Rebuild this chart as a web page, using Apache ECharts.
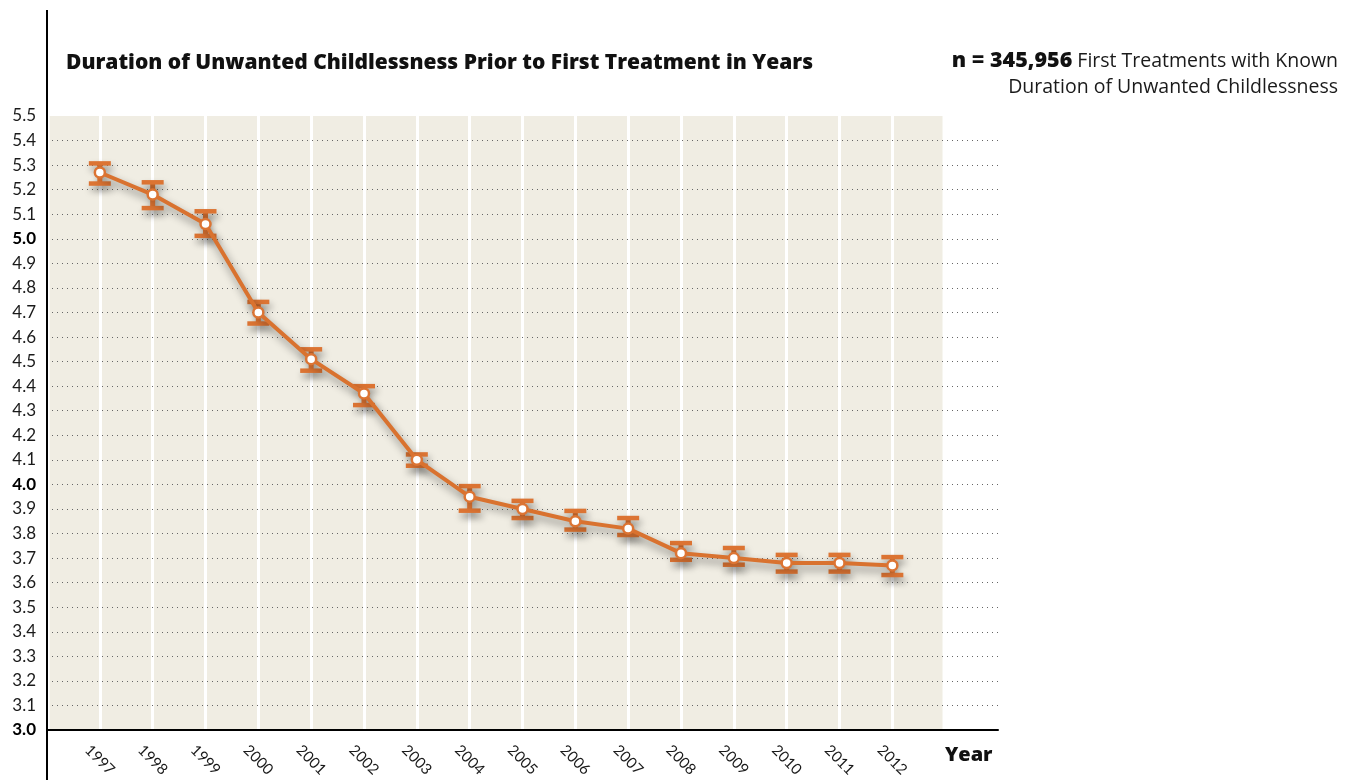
<!DOCTYPE html>
<html>
<head>
<meta charset="utf-8">
<script src="https://cdn.jsdelivr.net/npm/echarts@6/dist/echarts.min.js"></script>
<style>
html,body{margin:0;padding:0;background:#fff;}
#chart{width:1353px;height:780px;}
</style>
</head>
<body>
<div id="chart"></div>
<script>
const years = [1997,1998,1999,2000,2001,2002,2003,2004,2005,2006,2007,2008,2009,2010,2011,2012];
const meanValues = [5.27,5.18,5.06,4.70,4.51,4.37,4.10,3.95,3.90,3.85,3.82,3.72,3.70,3.68,3.68,3.67];
const lowerValues = [5.225,5.125,5.012,4.655,4.463,4.323,4.076,3.893,3.863,3.816,3.794,3.693,3.673,3.645,3.645,3.631];
const upperValues = [5.307,5.230,5.112,4.743,4.550,4.400,4.122,3.993,3.933,3.892,3.863,3.761,3.741,3.713,3.713,3.704];
const yTicks = {min: 3.0, max: 5.5, step: 0.1};
const titleText = 'Duration of Unwanted Childlessness Prior to First Treatment in Years';
const noteBold = 'n = 345,956';
const noteLine1 = ' First Treatments with Known';
const noteLine2 = 'Duration of Unwanted Childlessness';
const xAxisLabel = 'Year';

const ORANGE = '#DC7433';
const FONT = 'Lato, "Open Sans", sans-serif';
const HFONT = '"Open Sans", Lato, sans-serif';

const chart = echarts.init(document.getElementById('chart'));

const bgRange = [[years[0] - 0.95, years[years.length - 1] + 0.95]];

const option = {
  animation: false,
  backgroundColor: '#ffffff',
  grid: {left: 47, right: 355, top: 116, bottom: 50, containLabel: false},
  xAxis: {
    type: 'value',
    min: 1996, max: 2014, interval: 1,
    z: 2,
    axisLine: {show: true, onZero: false, lineStyle: {color: '#000', width: 2}},
    axisTick: {show: false},
    splitLine: {show: true, lineStyle: {color: '#ffffff', width: 3}},
    axisLabel: {
      rotate: -45, align: 'center', verticalAlign: 'middle', margin: 30,
      fontFamily: FONT, fontSize: 15, color: '#1a1a1a',
      formatter: v => years.indexOf(v) >= 0 ? String(v) : ''
    }
  },
  yAxis: {
    type: 'value',
    min: yTicks.min, max: yTicks.max, interval: yTicks.step,
    z: 3,
    axisLine: {show: false},
    axisTick: {show: false},
    splitLine: {show: true, showMaxLine: false, showMinLine: false, lineStyle: {color: '#666', width: 1, type: [1, 4]}},
    axisLabel: {
      margin: 11, fontFamily: FONT, fontSize: 17, color: '#1a1a1a',
      formatter: v => {
        const s = v.toFixed(1);
        return Math.abs(v - Math.round(v)) < 1e-6 ? '{b|' + s + '}' : s;
      },
      rich: {b: {fontWeight: 'bold', fontSize: 17, fontFamily: FONT, color: '#000'}}
    }
  },
  title: {
    text: titleText, left: 61, top: 48,
    textStyle: {fontFamily: HFONT, fontSize: 21, fontWeight: 800, color: '#111'}
  },
  graphic: [
    {type: 'line', z: 100, shape: {x1: 47, y1: 10, x2: 47, y2: 780}, style: {stroke: '#000', lineWidth: 2}},
    {type: 'text', right: 15, top: 50, z: 100,
      style: {
        text: '{b|' + noteBold + '}' + noteLine1,
        fontFamily: HFONT, fontSize: 19.5, fill: '#1a1a1a',
        rich: {b: {fontWeight: 800, fontFamily: HFONT, fontSize: 21.5, fill: '#111'}}
      }
    },
    {type: 'text', right: 15, top: 77, z: 100,
      style: {text: noteLine2, fontFamily: HFONT, fontSize: 19.5, fill: '#1a1a1a'}
    },
    {type: 'text', left: 945, top: 745, z: 100,
      style: {text: xAxisLabel, fontFamily: HFONT, fontSize: 20, fontWeight: 800, fill: '#111'}}
  ],
  series: [
    {
      type: 'custom', z: 0, silent: true,
      data: bgRange,
      encode: {x: [0, 1]},
      renderItem: (params, api) => {
        const p0 = api.coord([api.value(0), yTicks.max]);
        const p1 = api.coord([api.value(1), yTicks.min]);
        return {type: 'rect', shape: {x: p0[0], y: p0[1], width: p1[0] - p0[0], height: p1[1] - p0[1]},
          style: {fill: '#F0EDE3'}};
      }
    },
    {
      type: 'custom', z: 4, silent: true,
      data: years.map((y, i) => [y, lowerValues[i], upperValues[i]]),
      encode: {x: 0, y: [1, 2]},
      renderItem: (params, api) => {
        const x = api.value(0);
        const lo = api.coord([x, api.value(1)]);
        const hi = api.coord([x, api.value(2)]);
        const capW = 22, capH = 4.5, stemW = 5;
        const sh = {shadowBlur: 7, shadowColor: 'rgba(0,0,0,0.4)', shadowOffsetX: 2, shadowOffsetY: 5};
        return {type: 'group', children: [
          {type: 'rect', shape: {x: lo[0] - stemW / 2, y: hi[1], width: stemW, height: lo[1] - hi[1]}, style: Object.assign({fill: ORANGE}, sh)},
          {type: 'rect', shape: {x: hi[0] - capW / 2, y: hi[1] - capH / 2, width: capW, height: capH}, style: Object.assign({fill: ORANGE}, sh)},
          {type: 'rect', shape: {x: lo[0] - capW / 2, y: lo[1] - capH / 2, width: capW, height: capH}, style: Object.assign({fill: ORANGE}, sh)}
        ]};
      }
    },
    {
      type: 'line', z: 5,
      data: years.map((y, i) => [y, meanValues[i]]),
      symbol: 'circle', symbolSize: 10,
      lineStyle: {color: '#D9722F', width: 4, shadowBlur: 8, shadowColor: 'rgba(0,0,0,0.45)', shadowOffsetX: 2, shadowOffsetY: 5},
      itemStyle: {color: '#ffffff', borderColor: ORANGE, borderWidth: 2.5}
    }
  ]
};
chart.setOption(option);
</script>
</body>
</html>
